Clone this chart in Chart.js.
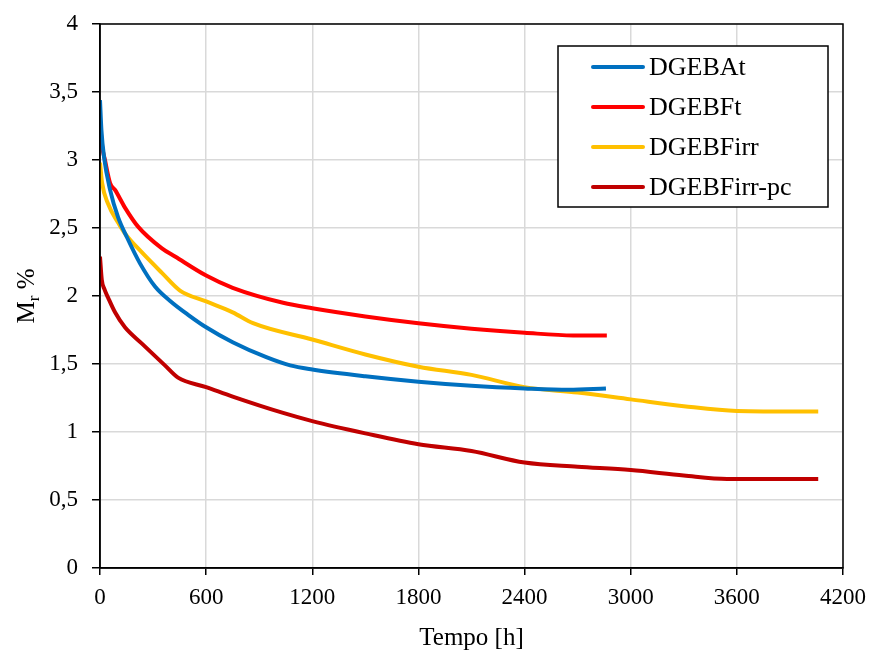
<!DOCTYPE html>
<html>
<head>
<meta charset="utf-8">
<script src="https://cdn.jsdelivr.net/npm/chart.js@4.4.1/dist/chart.umd.min.js"></script>
<style>
  html, body { margin: 0; padding: 0; background: #fff; }
  #wrap { width: 871px; height: 653px; }
</style>
</head>
<body>
<div id="wrap"><canvas id="mrchart" width="871" height="653"></canvas></div>
<script>
// tempo [h] and M_r % per series
var tDGEBAt = [0, 8, 23, 57, 102, 153, 226, 311, 400, 500, 600, 750, 940, 1075, 1200, 1500, 1800, 2100, 2400, 2650, 2860];
var mDGEBAt = [3.44, 3.22, 3.02, 2.78, 2.58, 2.43, 2.24, 2.07, 1.96, 1.86, 1.77, 1.66, 1.55, 1.49, 1.46, 1.41, 1.37, 1.34, 1.32, 1.31, 1.32];

var tDGEBFt = [0, 10, 28, 57, 85, 141, 215, 350, 424, 600, 750, 1035, 1200, 1500, 1800, 2100, 2400, 2675, 2865];
var mDGEBFt = [3.29, 3.12, 3.0, 2.83, 2.78, 2.65, 2.51, 2.35, 2.29, 2.15, 2.06, 1.95, 1.91, 1.85, 1.80, 1.76, 1.73, 1.71, 1.71];

var tDGEBFirr = [0, 12, 45, 102, 141, 237, 350, 452, 600, 750, 865, 1200, 1500, 1800, 2100, 2400, 2700, 3000, 3300, 3600, 4060];
var mDGEBFirr = [2.98, 2.83, 2.68, 2.54, 2.46, 2.32, 2.17, 2.04, 1.96, 1.88, 1.80, 1.68, 1.57, 1.48, 1.42, 1.33, 1.29, 1.24, 1.19, 1.155, 1.15];

var tDGEBFirrPc = [0, 10, 25, 45, 85, 141, 237, 367, 441, 600, 750, 1035, 1200, 1500, 1800, 2100, 2400, 2700, 3000, 3300, 3545, 4060];
var mDGEBFirrPc = [2.29, 2.12, 2.05, 1.99, 1.88, 1.77, 1.65, 1.49, 1.40, 1.33, 1.26, 1.14, 1.08, 0.99, 0.91, 0.86, 0.775, 0.745, 0.72, 0.68, 0.655, 0.655];

var seriesNames = ['DGEBAt', 'DGEBFt', 'DGEBFirr', 'DGEBFirr-pc'];
var xTitle = 'Tempo [h]';

var serif = '"Liberation Serif", "Times New Roman", serif';

function pts(t, m) {
    return t.map(function (x, i) { return { x: x, y: m[i] }; });
}

function line(label, t, m, color) {
    return {
        label: label,
        data: pts(t, m),
        borderColor: color,
        backgroundColor: color,
        borderWidth: 4,
        pointRadius: 0,
        fill: false,
        cubicInterpolationMode: 'monotone'
    };
}

// axis titles, frame and boxed legend
var decorations = {
    id: 'decorations',
    afterDraw: function (chart) {
        var ctx = chart.ctx;
        var a = chart.chartArea;
        ctx.save();

        ctx.strokeStyle = '#000';
        ctx.lineWidth = 1.5;
        ctx.strokeRect(a.left, a.top, a.right - a.left, a.bottom - a.top);

        ctx.fillStyle = '#000';
        ctx.textBaseline = 'middle';
        ctx.textAlign = 'center';
        ctx.font = '25px ' + serif;
        ctx.fillText(xTitle, (a.left + a.right) / 2, 638);

        // y title: M with subscript r, then %
        ctx.translate(25, (a.top + a.bottom) / 2);
        ctx.rotate(-Math.PI / 2);
        ctx.textAlign = 'left';
        ctx.textBaseline = 'alphabetic';
        var big = '25px ' + serif, small = '17px ' + serif;
        ctx.font = big;
        var wM = ctx.measureText('M').width;
        ctx.font = small;
        var wr = ctx.measureText('r').width;
        ctx.font = big;
        var wP = ctx.measureText(' %').width;
        var x0 = -(wM + wr + wP) / 2;
        ctx.fillText('M', x0, 9);
        ctx.font = small;
        ctx.fillText('r', x0 + wM, 14);
        ctx.font = big;
        ctx.fillText(' %', x0 + wM + wr, 9);
        ctx.restore();

        // legend box
        ctx.save();
        ctx.fillStyle = '#fff';
        ctx.fillRect(558, 46, 270, 161);
        ctx.strokeStyle = '#000';
        ctx.lineWidth = 1.5;
        ctx.strokeRect(558, 46, 270, 161);
        ctx.font = '26px ' + serif;
        ctx.textBaseline = 'middle';
        ctx.textAlign = 'left';
        chart.data.datasets.forEach(function (ds, i) {
            var y = 67 + i * 40;
            ctx.strokeStyle = ds.borderColor;
            ctx.lineWidth = 4;
            ctx.lineCap = 'round';
            ctx.beginPath();
            ctx.moveTo(593, y);
            ctx.lineTo(643, y);
            ctx.stroke();
            ctx.fillStyle = '#000';
            ctx.fillText(ds.label, 649, y + 1);
        });
        ctx.restore();
    }
};

var chart1 = document.getElementById('mrchart');
var myChart1 = new Chart(chart1, {
    type: 'line',
    data: {
        datasets: [
            line(seriesNames[0], tDGEBAt, mDGEBAt, '#0070C0'),
            line(seriesNames[1], tDGEBFt, mDGEBFt, '#FF0000'),
            line(seriesNames[2], tDGEBFirr, mDGEBFirr, '#FFC000'),
            line(seriesNames[3], tDGEBFirrPc, mDGEBFirrPc, '#C00000')
        ]
    },
    options: {
        responsive: false,
        animation: false,
        layout: { padding: { top: 24, right: 28, left: 0, bottom: 0 } },
        plugins: {
            legend: { display: false },
            tooltip: { enabled: false }
        },
        scales: {
            x: {
                type: 'linear',
                min: 0,
                max: 4200,
                afterFit: function (s) {
                    s.height = 85;
                    s.paddingLeft = 0;
                    s.paddingRight = 0;
                },
                ticks: {
                    stepSize: 600,
                    color: '#000',
                    padding: 9,
                    maxRotation: 0,
                    font: { family: serif, size: 23 },
                    callback: function (v) { return String(v); }
                },
                grid: { color: '#d9d9d9', lineWidth: 1.5, tickColor: '#000', tickLength: 7 },
                border: { color: '#000', width: 1.5 }
            },
            y: {
                min: 0,
                max: 4,
                afterFit: function (s) {
                    s.width = 100;
                    s.paddingTop = 0;
                    s.paddingBottom = 0;
                },
                ticks: {
                    stepSize: 0.5,
                    color: '#000',
                    padding: 14,
                    font: { family: serif, size: 23 },
                    callback: function (v) { return String(v).replace('.', ','); }
                },
                grid: { color: '#d9d9d9', lineWidth: 1.5, tickColor: '#000', tickLength: 8 },
                border: { color: '#000', width: 1.5 }
            }
        }
    },
    plugins: [decorations]
});
</script>
</body>
</html>
